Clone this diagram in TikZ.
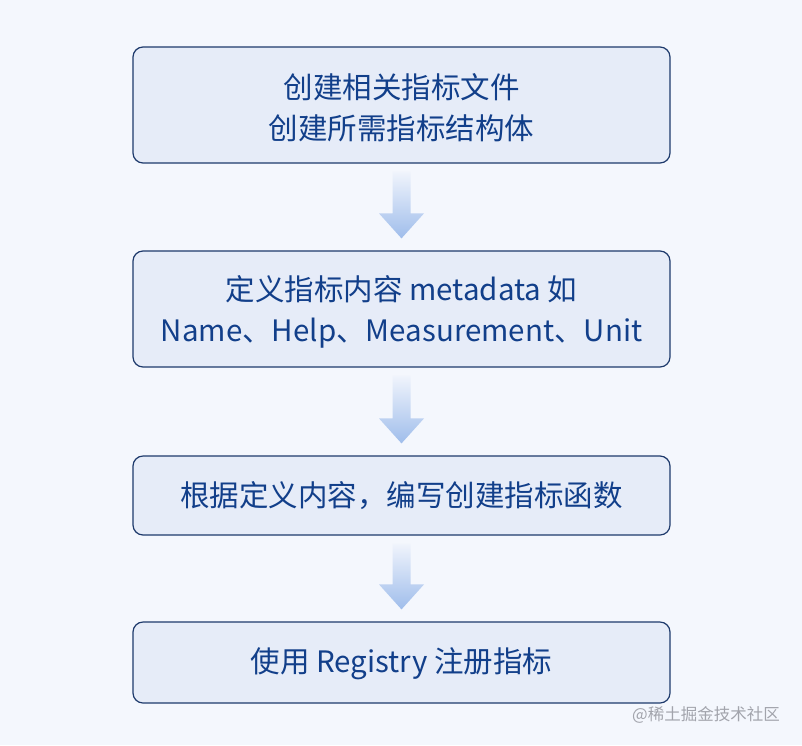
\documentclass[tikz,border=0pt]{standalone}
\usepackage{fontspec}
\setmainfont{Noto Sans CJK SC}
\usepackage{tikz}
\usetikzlibrary{positioning, calc}
\definecolor{bgColor}{HTML}{F4F7FD}
\definecolor{boxFill}{HTML}{E6ECF8}
\definecolor{boxLine}{HTML}{1E3A6C}
\definecolor{textBlue}{HTML}{123F8A}
\definecolor{arrowTop}{HTML}{F0F4FC}
\definecolor{arrowMid}{HTML}{BCD1F2}
\definecolor{arrowTip}{HTML}{9FBDEB}
\definecolor{markGray}{HTML}{A2A4AC}

\begin{document}
\begin{tikzpicture}[
    x=1pt, y=1pt,
    stepbox/.style={
        draw=boxLine, line width=1.2pt, fill=boxFill,
        rounded corners=10pt,
        minimum width=537pt,
    },
    steptext/.style={
        align=center, text=textBlue,
        font=\fontsize{29.5}{41}\selectfont,
    },
    flowarrow/.style={
        top color=arrowTop, middle color=arrowMid,
        bottom color=arrowTip, draw=none,
    },
    watermark/.style={
        font=\fontsize{16.5}{18}\selectfont,
        text=markGray,
    },
]

%--- Background ---
\fill[bgColor] (0,0) rectangle (802,-745);
\useasboundingbox (0,0) rectangle (802,-745);

%--- Step boxes ---
\node[stepbox, minimum height=116pt] (s1) at (401.5,-105) {};
\node[stepbox, minimum height=116pt] (s2) at (401.5,-309) {};
\node[stepbox, minimum height=79pt] (s3) at (401.5,-495.5) {};
\node[stepbox, minimum height=81pt] (s4) at (401.5,-662.5) {};

%--- Step texts ---
\node[steptext] (t1) at ($(s1)+(0,-3)$) {创建相关指标文件\\创建所需指标结构体};
\node[steptext] (t2) at ($(s2)+(0,-3)$) {定义指标内容 metadata 如\\Name、Help、Measurement、Unit};
\node[steptext] (t3) at (s3) {根据定义内容，编写创建指标函数};
\node[steptext] (t4) at ($(s4)+(0,-1.5)$) {使用 Registry 注册指标};

%--- Arrows between steps (faded block arrows) ---
\foreach \a/\b in {s1/s2, s2/s3, s3/s4} {
    \coordinate (top) at ($(\a.south)+(0,-8)$);
    \coordinate (tip) at ($(\b.north)+(0,12)$);
    \shade[flowarrow] ($(top)+(-9,0)$) -- ($(tip)+(-9,25)$)
        -- ($(tip)+(-22.5,25)$) -- (tip) -- ($(tip)+(22.5,25)$)
        -- ($(tip)+(9,25)$) -- ($(top)+(9,0)$) -- cycle;
}

%--- Watermark ---
\node[watermark] (mark) at (706,-715) {@稀土掘金技术社区};

\end{tikzpicture}
\end{document}
